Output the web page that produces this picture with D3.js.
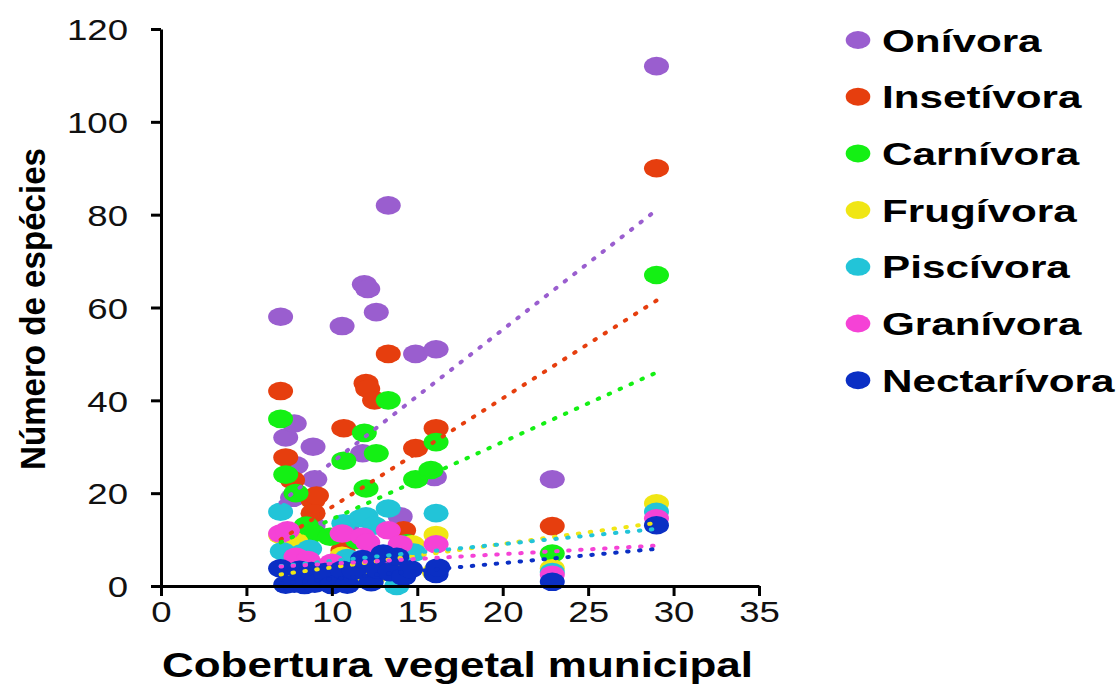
<!DOCTYPE html>
<html><head><meta charset="utf-8">
<script src="https://cdn.jsdelivr.net/npm/d3@7"></script>
<style>body{margin:0;background:#fff}svg{display:block}</style>
</head><body><svg id="c" width="1118" height="686"></svg>
<script>
const categories = ["Onívora","Insetívora","Carnívora","Frugívora","Piscívora","Granívora","Nectarívora"];
const colors = ["#9a5ecf","#e63e0e","#14f014","#f0e614","#22c4d8","#f542d6","#0b2fc4"];

// [cobertura vegetal, número de espécies]
const onivora = [[7.0,58],[7.3,32],[7.8,35],[7.9,26],[7.7,19],[8.9,30],[9.0,23],[8.9,13],[10.6,56],[10.9,12],[11.8,28.6],[11.9,65],[12.1,64],[12.6,59],[13.3,82],[14.0,15],[14.9,50],[16.1,51],[16.0,23.5],[22.9,23],[29.0,112]];
const insetivora = [[7.0,42],[7.3,27.7],[7.7,22.8],[8.9,18.5],[8.9,15.7],[9.1,19.5],[10.7,34],[10.65,7.7],[11.6,3.4],[12.0,43.7],[12.1,42.5],[12.5,40],[13.3,50],[14.2,12],[14.9,29.7],[16.1,34],[22.9,12.9],[29.0,90]];
const carnivora = [[7.0,36],[7.3,24],[7.9,20],[8.5,13],[8.9,11.4],[9.9,10.6],[10.7,27],[11.5,9.9],[11.9,33],[12.0,21],[12.6,28.6],[13.3,40],[14.4,9.2],[14.9,23],[15.8,25],[16.1,31],[22.9,7],[29.0,67]];
const frugivora = [[7.0,11],[7.3,4],[7.8,5],[7.9,9.5],[8.3,3],[9.0,2],[10.6,6.5],[11.2,2],[12.0,3],[12.6,2.5],[13.3,4],[14.2,6],[14.7,9],[16.1,11],[16.0,3],[22.9,3.8],[29.0,17.8]];
const piscivora = [[7.0,16],[7.1,7.5],[7.8,5.5],[8.2,7],[8.7,8],[9.8,4],[10.7,13.5],[10.9,6],[11.7,14.6],[12.0,15],[12.5,13],[13.3,16.7],[13.8,0],[14.8,7.2],[16.1,15.7],[22.9,3],[29.0,16]];
const granivora = [[7.0,11.3],[7.4,12],[7.9,6.3],[8.6,5.6],[9.2,4],[10.0,5],[10.6,11.3],[11.8,10.6],[12.1,9.4],[12.6,6],[13.3,12],[14.0,9],[16.1,9.0],[9.8,3],[22.9,2.4],[29.0,14.6]];
const nectarivora = [[7.0,3.8],[7.3,0.3],[7.8,0.5],[8.1,3.5],[8.4,0.2],[8.8,3.2],[9.0,0.5],[9.6,3.0],[10.0,0.2],[10.6,3.5],[10.9,0.3],[11.3,3.3],[11.8,5.8],[12.3,0.8],[12.7,3.5],[13.0,7.0],[13.4,3.0],[13.8,6.3],[14.2,2.0],[14.6,3.6],[16.1,2.6],[16.2,4.0],[22.9,0.9],[29.0,13.1]];
const seriesData = [onivora, insetivora, carnivora, frugivora, piscivora, granivora, nectarivora];

// linear trend lines (values read at the ends of each dotted line)
const trendX = [7, 29];
const trendStart = [18, 10, 9.4, 2.5, 4.3, 4.2, 0.5];
const trendEnd = [81, 61.5, 46, 13.6, 12.3, 8.7, 8.0];

const xTicks = [0,5,10,15,20,25,30,35];
const yTicks = [0,20,40,60,80,100,120];

const svg = d3.select("#c");
const x = d3.scaleLinear().domain([0,35]).range([161,759]);
const y = d3.scaleLinear().domain([0,120]).range([586,29]);
const FONT = "'Liberation Sans', Arial, sans-serif";
const SX = 1.22;

// points
seriesData.forEach((pts, i) => {
  svg.append("g").selectAll("ellipse").data(pts).join("ellipse")
    .attr("cx", d => x(d[0])).attr("cy", d => y(d[1]))
    .attr("rx", 12.5).attr("ry", 9.3)
    .attr("fill", colors[i]);
});

// trend lines
const line = d3.line().x(d => x(d[0])).y(d => y(d[1]));
seriesData.forEach((pts, i) => {
  svg.append("path")
    .attr("d", line([[trendX[0], trendStart[i]], [trendX[1], trendEnd[i]]]))
    .attr("fill", "none").attr("stroke", colors[i])
    .attr("stroke-width", 4).attr("stroke-linecap", "round")
    .attr("stroke-dasharray", "1.5 10.5");
});

// axes
const yAxis = svg.append("g").attr("transform", `translate(${x(0)},0)`)
  .call(d3.axisLeft(y).tickValues(yTicks).tickSize(10).tickSizeOuter(0).tickFormat(d3.format("d")));
const xAxis = svg.append("g").attr("transform", `translate(0,${y(0)})`)
  .call(d3.axisBottom(x).tickValues(xTicks).tickSize(10).tickSizeOuter(0).tickFormat(d3.format("d")));
[yAxis, xAxis].forEach(a => {
  a.selectAll("path.domain").attr("stroke", "#000").attr("stroke-width", 3);
  a.selectAll(".tick line").attr("stroke", "#000").attr("stroke-width", 3);
  a.selectAll(".tick text").attr("fill", "#111").attr("font-size", 30).attr("font-family", FONT);
});
yAxis.selectAll(".tick text").attr("x", null).attr("dy", "0.36em")
  .attr("transform", `translate(-33,0) scale(${SX},1)`);
xAxis.selectAll(".tick text").attr("y", null).attr("dy", null)
  .attr("transform", `translate(0,36) scale(${SX},1)`);

// axis titles
svg.append("text").attr("x", 457.5).attr("y", 677).attr("text-anchor", "middle")
  .attr("font-family", FONT).attr("font-weight", "bold").attr("font-size", 35)
  .attr("textLength", 591).attr("lengthAdjust", "spacingAndGlyphs")
  .text("Cobertura vegetal municipal");
svg.append("text").attr("transform", "translate(45,309) rotate(-90)").attr("text-anchor", "middle")
  .attr("font-family", FONT).attr("font-weight", "bold").attr("font-size", 35)
  .attr("textLength", 322).attr("lengthAdjust", "spacingAndGlyphs")
  .text("Número de espécies");

// legend
const leg = svg.append("g");
categories.forEach((c, i) => {
  const cy = 40 + i * 56.7;
  leg.append("ellipse").attr("cx", 858).attr("cy", cy).attr("rx", 12.3).attr("ry", 9).attr("fill", colors[i]);
  leg.append("text").attr("transform", `translate(882,${cy + 11.5}) scale(1.32,1)`)
    .attr("font-family", FONT).attr("font-weight", "bold").attr("font-size", 32).attr("fill", "#000")
    .text(c);
});
</script></body></html>
